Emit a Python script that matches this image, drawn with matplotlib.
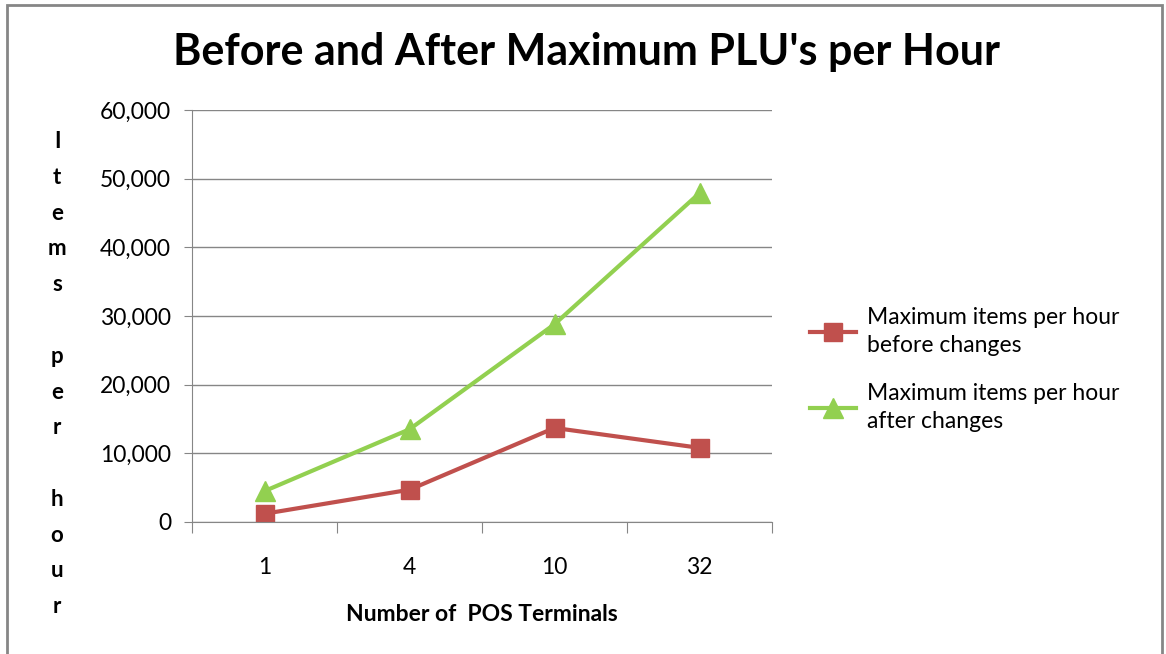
import numpy as np
import matplotlib.pyplot as plt
from matplotlib.patches import Rectangle

# data
terminals = ['1', '4', '10', '32']
beforeChanges = [1200, 4700, 13700, 10800]
afterChanges = [4500, 13500, 28800, 47900]
yTicks = [0, 10000, 20000, 30000, 40000, 50000, 60000]

plt.rcParams['font.family'] = ['Lato', 'DejaVu Sans']

fig = plt.figure(figsize=(11.66, 6.54), dpi=100)
ax = fig.add_axes([192/1166, 1 - 522/654, 580/1166, 412/654])

x = np.arange(len(terminals))
ax.plot(x, beforeChanges, color='#C0504D', lw=3, marker='s', ms=13,
        label='Maximum items per hour\nbefore changes')
ax.plot(x, afterChanges, color='#92D050', lw=3, marker='^', ms=14,
        label='Maximum items per hour\nafter changes')

ax.set_xlim(-0.5, len(terminals) - 0.5)
ax.set_ylim(0, 60000)
ax.set_yticks(yTicks)
ax.set_yticklabels(['{:,}'.format(v) for v in yTicks], fontsize=16.5)
ax.yaxis.grid(True, color='#868686', lw=1)
ax.set_axisbelow(True)

# ticks between categories, labels centered
ax.set_xticks(np.arange(len(terminals) + 1) - 0.5)
ax.set_xticklabels([])
ax.set_xticks(x, minor=True)
ax.set_xticklabels(terminals, minor=True, fontsize=16.5)
ax.tick_params(axis='x', which='major', length=8, color='#868686', direction='out')
ax.tick_params(axis='x', which='minor', length=0, pad=25)
ax.tick_params(axis='y', length=6, color='#868686', pad=9)

for s in ['top', 'right']:
    ax.spines[s].set_visible(False)
for s in ['left', 'bottom']:
    ax.spines[s].set_color('#868686')

ax.set_xlabel('Number of  POS Terminals', fontsize=16.5, fontweight='bold', labelpad=19)

# stacked vertical y label
fig.text(57/1166, 1 - 131/654, 'I\nt\ne\nm\ns\n\np\ne\nr\n\nh\no\nu\nr',
         ha='center', va='top', fontsize=16, fontweight='bold', linespacing=1.87)

fig.suptitle("Before and After Maximum PLU's per Hour", x=587/1166, y=1 - 52/654,
             va='center', fontsize=31, fontweight='bold')

leg = ax.legend(loc='center left', bbox_to_anchor=(1.05, 0.37), frameon=False, borderaxespad=0,
                fontsize=16.5, handlelength=2.0, labelspacing=1.15, handletextpad=0.5)
for t in leg.get_texts():
    t.set_linespacing(1.45)

# chart frame
fig.patches.append(Rectangle((7/1166, -0.05), 1155/1166, 1.05 - 5/654, transform=fig.transFigure,
                             fill=False, ec='#868686', lw=2))

fig.savefig('out.png', dpi=100)
